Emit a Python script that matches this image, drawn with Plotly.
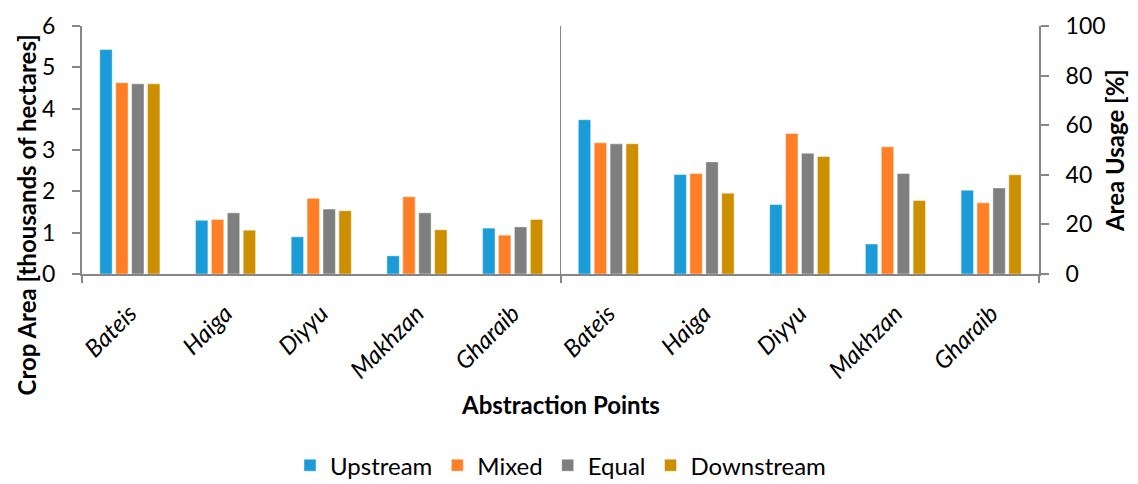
import plotly.graph_objects as go

categories = ["Bateis", "Haiga", "Diyyu", "Makhzan", "Gharaib"]
series_names = ["Upstream", "Mixed", "Equal", "Downstream"]
colors = ["#1B9BD7", "#FF7F27", "#7F7F7F", "#CC8F00"]

# Crop area [thousands of hectares] (left axis)
upstream_area = [5.43, 1.30, 0.90, 0.44, 1.11]
mixed_area = [4.63, 1.32, 1.83, 1.87, 0.94]
equal_area = [4.60, 1.48, 1.57, 1.48, 1.14]
downstream_area = [4.60, 1.06, 1.53, 1.07, 1.32]

# Area usage [%] (right axis)
upstream_usage = [62.2, 40.1, 28.0, 12.1, 33.8]
mixed_usage = [52.9, 40.5, 56.7, 51.3, 28.7]
equal_usage = [52.5, 45.2, 48.7, 40.5, 34.7]
downstream_usage = [52.5, 32.6, 47.4, 29.6, 40.0]

area_series = [upstream_area, mixed_area, equal_area, downstream_area]
usage_series = [upstream_usage, mixed_usage, equal_usage, downstream_usage]

n = len(categories)
left_pos = list(range(n))
right_pos = list(range(n, 2 * n))
tick_labels = categories + categories

FONT = "Lato"
AX = "#868686"

fig = go.Figure()
for name, col, vals in zip(series_names, colors, area_series):
    fig.add_trace(go.Bar(x=left_pos, y=vals, name=name, marker_color=col,
                         marker_line=dict(color="rgba(255,255,255,0.45)", width=1),
                         legendgroup=name, xaxis="x", yaxis="y"))
for name, col, vals in zip(series_names, colors, usage_series):
    fig.add_trace(go.Bar(x=right_pos, y=vals, name=name, marker_color=col,
                         marker_line=dict(color="rgba(255,255,255,0.45)", width=1),
                         legendgroup=name, showlegend=False, xaxis="x2", yaxis="y2"))

fig.update_layout(
    width=1138, height=484,
    margin=dict(l=82, r=99, t=26, b=210, autoexpand=False),
    paper_bgcolor="white", plot_bgcolor="white",
    barmode="group", bargap=0.335, bargroupgap=0.22,
    font=dict(family=FONT, color="#000000"),
    xaxis=dict(range=[-0.5, 2 * n - 0.5], tickvals=left_pos + right_pos, ticktext=tick_labels,
               tickangle=-45, tickfont=dict(family=FONT, size=24, style="italic"),
               ticks="", ticklabelstandoff=14, showgrid=False, zeroline=False,
               showline=True, linecolor=AX, linewidth=2),
    xaxis2=dict(overlaying="x", anchor="y2", side="bottom", range=[-0.5, 2 * n - 0.5],
                tickvals=[-0.5, n - 0.5, 2 * n - 0.5], showticklabels=False,
                ticks="outside", ticklen=8, tickcolor=AX, tickwidth=1.5,
                showgrid=True, gridcolor=AX, gridwidth=1.2, zeroline=False, showline=False),
    yaxis=dict(range=[0, 6], dtick=1, ticks="outside", ticklen=8, tickcolor=AX, tickwidth=1.5,
               showline=True, linecolor=AX, linewidth=2, showgrid=False, zeroline=False,
               ticklabelstandoff=12, tickfont=dict(family=FONT, size=23)),
    yaxis2=dict(overlaying="y", anchor="x2", side="right", range=[0, 100], dtick=20,
                ticks="outside", ticklen=8, tickcolor=AX, tickwidth=1.5,
                showline=True, linecolor=AX, linewidth=2, showgrid=False, zeroline=False,
                ticklabelstandoff=12, tickfont=dict(family=FONT, size=23)),
    legend=dict(orientation="h", x=0.5, xanchor="center", xref="paper",
                y=0.038, yanchor="middle", yref="container", itemwidth=30,
                font=dict(family=FONT, size=24), traceorder="normal"),
    annotations=[
        dict(text="<b>Crop Area [thousands of hectares]</b>", xref="paper", yref="paper",
             x=-0.0575, y=0.240, textangle=-90, showarrow=False, xanchor="center", yanchor="middle",
             font=dict(family=FONT, size=24)),
        dict(text="<b>Area Usage [%]</b>", xref="paper", yref="paper",
             x=1.079, y=0.498, textangle=-90, showarrow=False, xanchor="center", yanchor="middle",
             font=dict(family=FONT, size=24)),
        dict(text="<b>Abstraction Points</b>", xref="paper", yref="paper",
             x=0.4995, y=-0.527, showarrow=False, xanchor="center", yanchor="middle",
             font=dict(family=FONT, size=24)),
    ],
)

fig.write_html("out.html")
